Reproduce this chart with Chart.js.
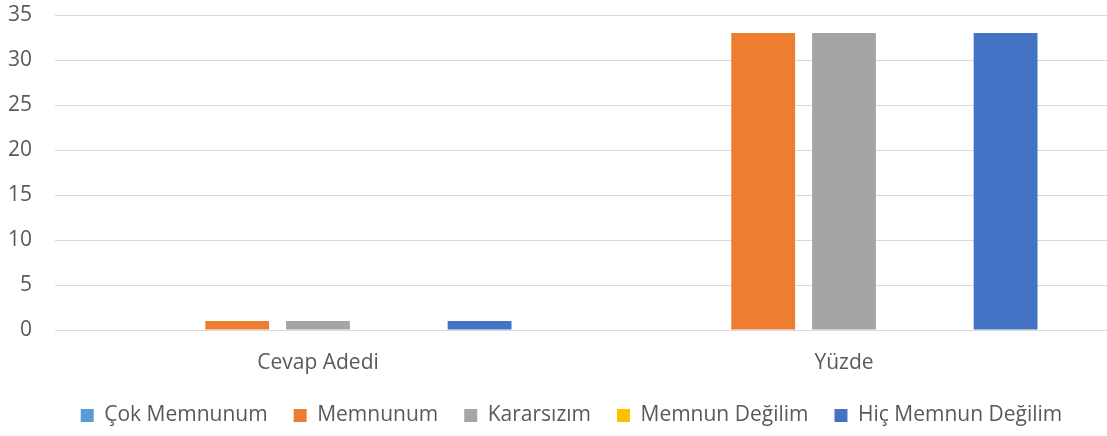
<!DOCTYPE html>
<html>
<head>
<meta charset="utf-8">
<script src="https://cdn.jsdelivr.net/npm/chart.js@4"></script>
<style>
  html, body { margin: 0; padding: 0; background: #fff; }
  #wrap { width: 1107px; height: 436px; }
</style>
</head>
<body>
<div id="wrap"><canvas id="chart"></canvas></div>
<script>
const categories = ["Cevap Adedi", "Yüzde"];
const seriesNames = ["Çok Memnunum", "Memnunum", "Kararsızım", "Memnun Değilim", "Hiç Memnun Değilim"];
const cokMemnunum = [0, 0];
const memnunum = [1, 33];
const kararsizim = [1, 33];
const memnunDegilim = [0, 0];
const hicMemnunDegilim = [1, 33];
const yTicks = [0, 5, 10, 15, 20, 25, 30, 35];
const colors = ["#5B9BD5", "#ED7D31", "#A5A5A5", "#FFC000", "#4472C4"];

const values = [cokMemnunum, memnunum, kararsizim, memnunDegilim, hicMemnunDegilim];
const textColor = "#595959";
const fontFamily = "'Open Sans', sans-serif";

// the legend sits a little right of centre in the original
const legendShift = {
  id: "legendShift",
  afterLayout(chart) {
    chart.legend.left += 18;
    chart.legend.right += 18;
  },
};

new Chart(document.getElementById("chart"), {
  type: "bar",
  data: {
    labels: categories,
    datasets: seriesNames.map((name, i) => ({
      label: name,
      data: values[i],
      backgroundColor: colors[i],
      borderWidth: 0,
      categoryPercentage: 0.768,
      barPercentage: 0.79,
    })),
  },
  options: {
    responsive: true,
    maintainAspectRatio: false,
    animation: false,
    layout: { padding: { top: 15, right: 0, bottom: 0, left: 0 } },
    plugins: {
      tooltip: { enabled: false },
      legend: {
        position: "bottom",
        labels: {
          boxWidth: 13,
          boxHeight: 13,
          padding: 26,
          color: textColor,
          font: { family: fontFamily, size: 21 },
        },
      },
    },
    scales: {
      x: {
        grid: { display: false, drawTicks: false },
        border: { display: false },
        afterFit: (axis) => {
          axis.height = 49;
        },
        ticks: {
          color: textColor,
          padding: 20,
          font: { family: fontFamily, size: 21 },
        },
      },
      y: {
        min: 0,
        max: 35,
        afterBuildTicks: (axis) => {
          axis.ticks = yTicks.map((v) => ({ value: v }));
        },
        afterFit: (axis) => {
          axis.width = 55;
          axis.paddingTop = 0;
          axis.paddingBottom = 0;
        },
        grid: { color: "#d9d9d9", lineWidth: 1, drawTicks: false },
        border: { display: false },
        ticks: {
          color: textColor,
          padding: 23,
          font: { family: fontFamily, size: 21 },
        },
      },
    },
  },
  plugins: [legendShift],
});
</script>
</body>
</html>
